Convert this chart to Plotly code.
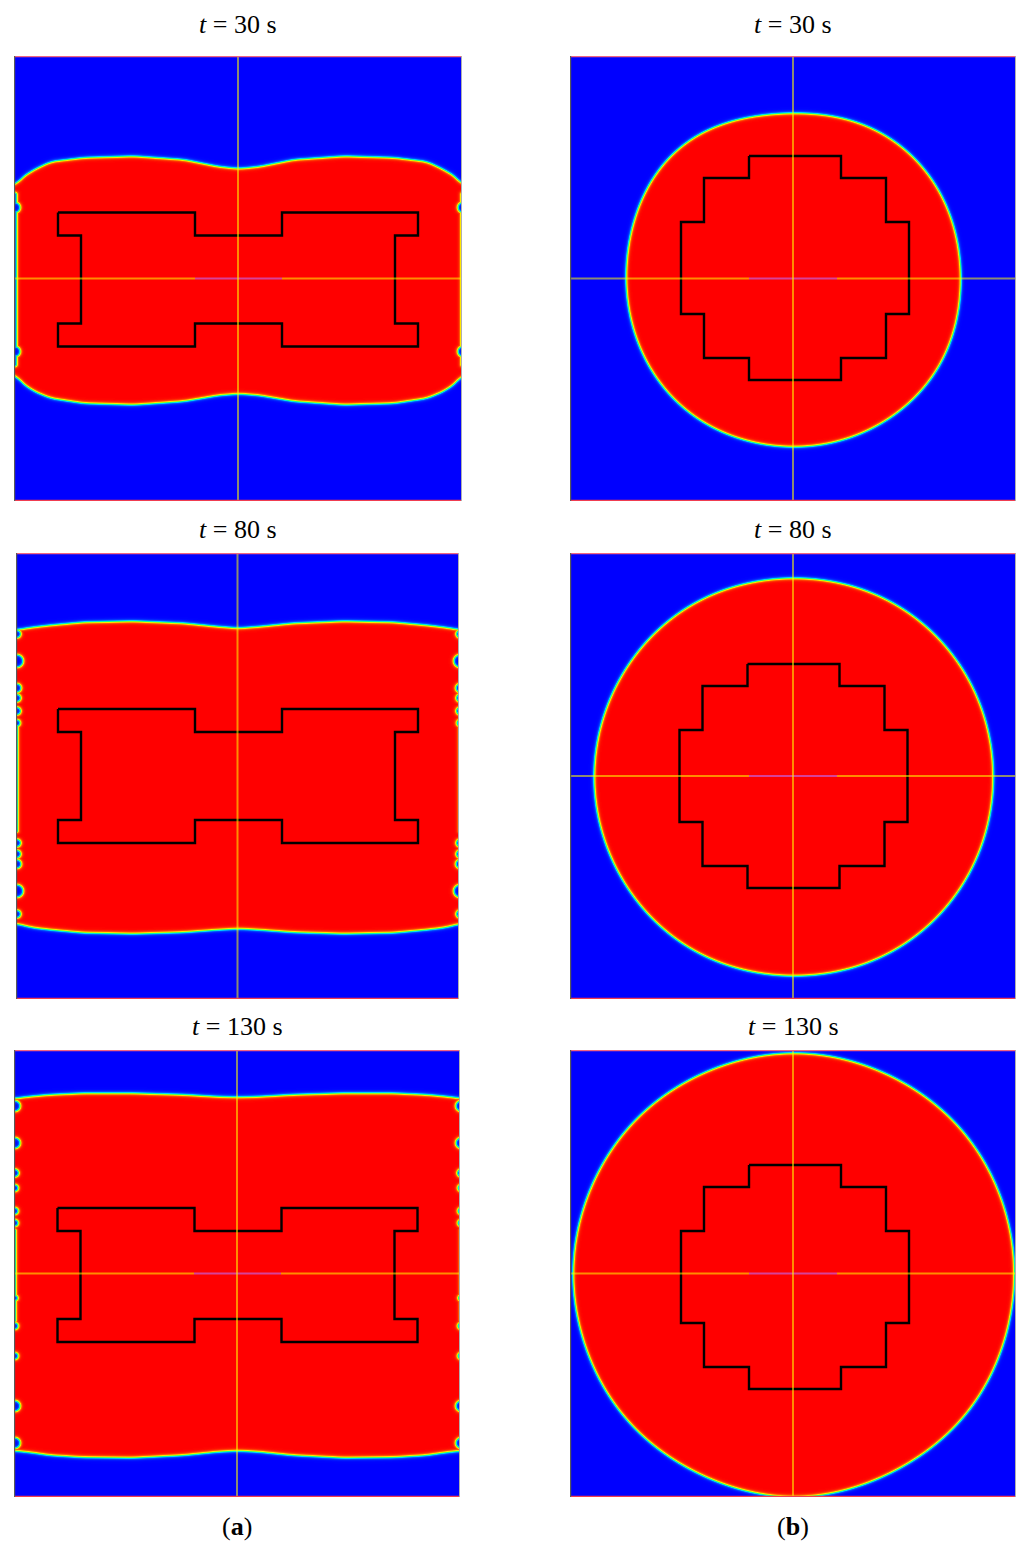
import numpy as np
import plotly.graph_objects as go

W, H = 1019, 1541

TIME_LABELS = ["30", "80", "130"]
COLUMN_LABELS = ["a", "b"]

# H-shaped insert outline (column a), units relative to the domain centre
H_OUTLINE_X = [-180, -43, -43, 44, 44, 180, 180, 157, 157, 180, 180, 44, 44,
               -43, -43, -180, -180, -157, -157, -180, -180]
H_OUTLINE_Y = [67, 67, 44, 44, 67, 67, 44, 44, -44, -44, -67, -67, -44,
               -44, -67, -67, -44, -44, 44, 44, 67]

# stepped cross-shaped insert outline (column b)
CROSS_OUTLINE_X = [-46, 46, 46, 91, 91, 114, 114, 91, 91, 46, 46, -46, -46,
                   -91, -91, -114, -114, -91, -91, -46, -46]
CROSS_OUTLINE_Y = [112, 112, 90, 90, 46, 46, -46, -46, -90, -90, -112, -112,
                   -90, -90, -46, -46, 46, 46, 90, 90, 112]

# outline offsets per time step (dx, dy)
H_SHIFT = [(0, -1), (0.5, 0), (0.5, -1.5)]
CROSS_SHIFT = [(2, 10.5), (0.5, 0), (2, -3.5)]

# column a: filling front (upper and lower) sampled across the width
FRONT_X = [-224, -218, -205, -188, -155, -105, -55, -20, 0,
           20, 55, 105, 155, 188, 205, 218, 224]
FRONT_TOP_30 = [93.5, 101.5, 110, 118, 122, 123.5, 120, 113, 111,
                113, 120, 123.5, 122, 118, 110, 102, 93.5]
FRONT_BOTTOM_30 = [94.5, 103, 112, 119, 124, 125.5, 122, 116, 114.5,
                   116, 122, 125.5, 124, 119, 112, 103, 94.5]
FRONT_TOP_80 = [146.5, 148, 150, 152, 155, 156, 154, 150.5, 149,
                150.5, 154, 156, 155, 152, 150, 148, 146.5]
FRONT_BOTTOM_80 = [146, 148, 151, 153, 156, 157, 155.5, 153, 152,
                   153, 155.5, 157, 156, 153, 151, 148, 146]
FRONT_TOP_130 = [176, 177, 178.5, 180, 181.5, 181.5, 180, 178, 177.5,
                 178, 180, 181.5, 181.5, 180, 178.5, 177, 176]
FRONT_BOTTOM_130 = [176.5, 177, 178.5, 181, 183, 183.5, 181, 177.5, 176.5,
                    177.5, 181, 183.5, 183, 181, 178.5, 177, 176.5]

# column a: air pockets trapped at the side walls (y_from, y_to, radius)
WALL_SPOTS_30 = [(85, -85, 1.5), (72, 72, 5), (-72, -72, 5)]
WALL_SPOTS_80 = [(143, 143, 3.5), (116, 116, 6), (89, 89, 4), (79, 79, 3.5),
                 (66, 66, 3.5), (54, 54, 3), (53, -54, 0.5), (-66, -66, 3.5),
                 (-77, -77, 3.5), (-87, -87, 4), (-114, -114, 6), (-137, -137, 3.5)]
WALL_SPOTS_130 = [(168.5, 168.5, 5), (131.5, 131.5, 5), (101.5, 101.5, 3.5),
                  (86.5, 86.5, 3), (63.5, 63.5, 3), (51.5, 51.5, 3), (44, -46, 0.5),
                  (-23.5, -23.5, 2.5), (-51.5, -51.5, 3), (-81.5, -81.5, 3),
                  (-131.5, -131.5, 5), (-168.5, -168.5, 5)]

# column b: front radius versus polar angle
FRONT_ANGLE_DEG = [0, 22.5, 45, 67.5, 90, 112.5, 135, 157.5,
                   180, 202.5, 225, 247.5, 270, 292.5, 315, 337.5]
FRONT_RADIUS_30 = [167, 169, 171, 169.5, 166.5, 170.5, 174.5, 171,
                   168, 168.5, 169.5, 168.5, 167.5, 168, 169, 168.5]
FRONT_RADIUS_80 = [199.5, 200, 200.5, 200, 199, 200, 200.5, 200,
                   200, 200, 200.5, 200, 199, 200, 200.5, 200]
FRONT_RADIUS_130 = [220.5, 221, 221.5, 221, 221.5, 221, 221.5, 221,
                    221, 221, 221.5, 221, 222.5, 221, 221.5, 221]

# which frames show the horizontal centre line
H_LINE_A = [True, False, True]
H_LINE_B = [True, True, True]

# panel frames in page pixels: (left, right, top, bottom)
FRAMES_A = [(14, 462, 56, 501), (16, 459, 553, 999), (14, 460, 1050, 1497)]
FRAMES_B = [(570, 1016, 56, 501), (570, 1016, 553, 999), (570, 1016, 1050, 1497)]
TITLE_Y = [24, 530, 1026]
LABEL_Y = 1526

FRONT_WIDTH = 1.9
PHASE_SCALE = [[0.0, "#0000ff"], [0.22, "#0060ff"], [0.36, "#00d8ff"],
               [0.5, "#10ff90"], [0.62, "#90ff20"], [0.74, "#ffe800"],
               [0.87, "#ff6400"], [1.0, "#ff0000"]]


def phase(d):
    return 0.5 * (1.0 + np.tanh(d / FRONT_WIDTH))


def smooth(v, k):
    padded = np.pad(v, k, mode="edge")
    ker = np.ones(2 * k + 1) / (2 * k + 1)
    return np.convolve(padded, ker, mode="valid")


def grid(hw, hh):
    x = np.arange(-hw + 0.5, hw, 1.0)
    y = np.arange(-hh + 0.5, hh, 1.0)
    return x, y


def slab_field(hw, hh, top, bottom, spots):
    x, y = grid(hw, hh)
    ht = smooth(np.interp(x, FRONT_X, top), 6)
    hb = smooth(np.interp(x, FRONT_X, bottom), 6)
    st = np.sqrt(1 + np.gradient(ht, x) ** 2)
    sb = np.sqrt(1 + np.gradient(hb, x) ** 2)
    X, Y = np.meshgrid(x, y)
    d = np.minimum((ht[None, :] - Y) / st[None, :], (Y + hb[None, :]) / sb[None, :])
    phi = phase(d)
    for xw in (-hw, hw):
        for ya, yb, r in spots:
            lo, hi = min(ya, yb), max(ya, yb)
            yc = np.clip(Y, lo, hi)
            dist = np.hypot(X - xw, Y - yc) - r
            phi = np.minimum(phi, phase(dist))
    return x, y, phi


def radius_series(theta, radii):
    n = len(radii)
    c = np.fft.rfft(np.asarray(radii, float)) / n
    r = np.full_like(theta, c[0].real)
    for k in range(1, len(c)):
        f = 1.0 if (n % 2 == 0 and k == n // 2) else 2.0
        r += f * (c[k] * np.exp(1j * k * theta)).real
    return r


def disc_field(hw, hh, radii):
    x, y = grid(hw, hh)
    X, Y = np.meshgrid(x, y)
    rho = np.hypot(X, Y)
    theta = np.mod(np.arctan2(Y, X), 2 * np.pi)
    rr = radius_series(theta, radii)
    return x, y, phase(rr - rho)


fronts_a = [(FRONT_TOP_30, FRONT_BOTTOM_30, WALL_SPOTS_30),
            (FRONT_TOP_80, FRONT_BOTTOM_80, WALL_SPOTS_80),
            (FRONT_TOP_130, FRONT_BOTTOM_130, WALL_SPOTS_130)]
fronts_b = [FRONT_RADIUS_30, FRONT_RADIUS_80, FRONT_RADIUS_130]

fig = go.Figure()
layout_axes = {}
shapes = []
annotations = []

panels = []
for row in range(3):
    panels.append(("a", row, FRAMES_A[row]))
    panels.append(("b", row, FRAMES_B[row]))

for idx, (col, row, frame) in enumerate(panels, start=1):
    left, right, top, bottom = frame
    hw, hh = (right - left) / 2.0, (bottom - top) / 2.0
    xa, ya = f"x{idx}", f"y{idx}"
    suffix = "" if idx == 1 else str(idx)
    layout_axes[f"xaxis{suffix}"] = dict(
        domain=[left / W, right / W], range=[-hw, hw], visible=False,
        anchor=ya, fixedrange=True)
    layout_axes[f"yaxis{suffix}"] = dict(
        domain=[1 - bottom / H, 1 - top / H], range=[-hh, hh], visible=False,
        anchor=xa, fixedrange=True)

    if col == "a":
        t, b, spots = fronts_a[row]
        x, y, phi = slab_field(hw, hh, t, b, spots)
        ox, oy = H_OUTLINE_X, H_OUTLINE_Y
        sx, sy = H_SHIFT[row]
        seg = (-43, 44)
        has_h = H_LINE_A[row]
    else:
        x, y, phi = disc_field(hw, hh, fronts_b[row])
        ox, oy = CROSS_OUTLINE_X, CROSS_OUTLINE_Y
        sx, sy = CROSS_SHIFT[row]
        seg = (-44, 44)
        has_h = H_LINE_B[row]

    z = np.round(phi * 255).astype(np.uint8)
    fig.add_trace(go.Heatmap(
        x=x, y=y, z=z, zmin=0, zmax=255, colorscale=PHASE_SCALE,
        showscale=False, zsmooth="best", hoverinfo="skip", xaxis=xa, yaxis=ya))
    fig.add_trace(go.Scatter(
        x=np.array(ox, float) + sx, y=np.array(oy, float) + sy, mode="lines",
        line=dict(color="#000000", width=2.4), hoverinfo="skip",
        xaxis=xa, yaxis=ya))

    guide = dict(color="rgba(255,255,0,0.55)", width=2)
    if has_h:
        shapes.append(dict(type="line", xref=xa, yref=ya, x0=-hw, x1=seg[0],
                           y0=0, y1=0, line=guide))
        shapes.append(dict(type="line", xref=xa, yref=ya, x0=seg[1], x1=hw,
                           y0=0, y1=0, line=guide))
        shapes.append(dict(type="line", xref=xa, yref=ya, x0=seg[0], x1=seg[1],
                           y0=0, y1=0,
                           line=dict(color="rgba(190,110,255,0.6)", width=2)))
    shapes.append(dict(type="line", xref=xa, yref=ya, x0=0, x1=0,
                       y0=-hh, y1=hh, line=guide))

    # frame edges
    shapes.append(dict(type="line", xref=xa, yref=ya, x0=-hw, x1=hw,
                       y0=hh - 0.6, y1=hh - 0.6,
                       line=dict(color="rgb(240,100,130)", width=1.2)))
    shapes.append(dict(type="line", xref=xa, yref=ya, x0=-hw, x1=hw,
                       y0=-hh + 0.6, y1=-hh + 0.6,
                       line=dict(color="rgb(240,60,80)", width=1.2)))
    shapes.append(dict(type="line", xref=xa, yref=ya, x0=-hw + 0.6, x1=-hw + 0.6,
                       y0=-hh, y1=hh, line=dict(color="rgb(90,90,90)", width=1.2)))
    shapes.append(dict(type="line", xref=xa, yref=ya, x0=hw - 0.5, x1=hw - 0.5,
                       y0=-hh, y1=hh, line=dict(color="rgb(175,175,175)", width=1)))

    # time label above each frame
    annotations.append(dict(
        x=(left + right) / 2.0 / W, y=1 - TITLE_Y[row] / H, xref="paper", yref="paper",
        text=f"<i>t</i> = {TIME_LABELS[row]} s", showarrow=False,
        xanchor="center", yanchor="middle",
        font=dict(family="Liberation Serif", size=26, color="#000000")))

for col, frame in zip(COLUMN_LABELS, (FRAMES_A[2], FRAMES_B[2])):
    annotations.append(dict(
        x=(frame[0] + frame[1]) / 2.0 / W, y=1 - LABEL_Y / H, xref="paper", yref="paper",
        text=f"(<b>{col}</b>)", showarrow=False, xanchor="center", yanchor="middle",
        font=dict(family="Liberation Serif", size=26, color="#000000")))

fig.update_layout(
    width=W, height=H, margin=dict(l=0, r=0, t=0, b=0),
    paper_bgcolor="white", plot_bgcolor="white", showlegend=False,
    shapes=shapes, annotations=annotations, **layout_axes)

fig.write_html("out.html")
